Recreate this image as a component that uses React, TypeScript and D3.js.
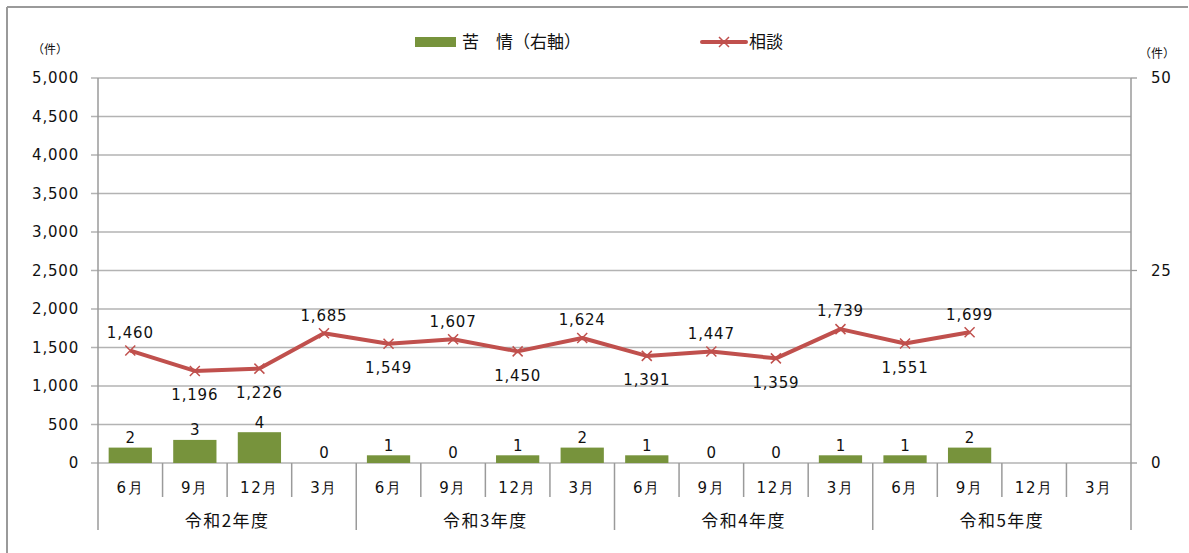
import React from "react";
import * as d3 from "d3";

const months = ["6月", "9月", "12月", "3月", "6月", "9月", "12月", "3月", "6月", "9月", "12月", "3月", "6月", "9月", "12月", "3月"];
const years = ["令和2年度", "令和3年度", "令和4年度", "令和5年度"];
const complaints: (number | null)[] = [2, 3, 4, 0, 1, 0, 1, 2, 1, 0, 0, 1, 1, 2, null, null];
const consultations: (number | null)[] = [1460, 1196, 1226, 1685, 1549, 1607, 1450, 1624, 1391, 1447, 1359, 1739, 1551, 1699, null, null];
const labelAbove = [true, false, false, true, false, true, false, true, false, true, false, true, false, true];
const leftTicks = [0, 500, 1000, 1500, 2000, 2500, 3000, 3500, 4000, 4500, 5000];
const rightTicks = [0, 25, 50];

const W = 1189, H = 553;
const L = 98, R = 1131, T = 78, B = 463;
const FONT = "'DejaVu Sans', Verdana, sans-serif";
const JFONT = "'Noto Sans CJK JP', 'DejaVu Sans', sans-serif";
const GRID = "#b3b3b3";
const AX = "#9a9a9a";
const GREEN = "#77933c";
const RED = "#c0504d";

export default function App() {
  const idx = months.map((_, i) => i);
  const x = d3.scaleBand<number>().domain(idx).range([L, R]).paddingInner(0.33).paddingOuter(0.165);
  const xc = (i: number) => (x(i) as number) + x.bandwidth() / 2;
  const step = (R - L) / months.length;
  const yL = d3.scaleLinear().domain([0, 5000]).range([B, T]);
  const yR = d3.scaleLinear().domain([0, 50]).range([B, T]);
  const fmt = d3.format(",");
  const pts = consultations.map((v, i) => (v == null ? null : [xc(i), yL(v)] as [number, number])).filter(Boolean) as [number, number][];
  const line = d3.line<[number, number]>()(pts) as string;

  return (
    <svg width={W} height={H} style={{ display: "block", position: "absolute", left: 0, top: 0, background: "#fff" }}>
      <line x1={7} y1={7} x2={1188} y2={7} stroke={AX} strokeWidth={2} />
      <line x1={7} y1={7} x2={7} y2={553} stroke={AX} strokeWidth={2} />
      {/* gridlines */}
      {leftTicks.map((t) => (
        <line key={t} x1={L - 7} x2={R} y1={yL(t)} y2={yL(t)} stroke={GRID} strokeWidth={1.3} />
      ))}
      {rightTicks.map((t) => (
        <line key={"r" + t} x1={R} x2={R + 6} y1={yR(t)} y2={yR(t)} stroke={AX} strokeWidth={1.3} />
      ))}
      {/* axes */}
      <line x1={L} x2={L} y1={T} y2={530} stroke={AX} strokeWidth={1.5} />
      <line x1={R} x2={R} y1={T} y2={530} stroke={AX} strokeWidth={1.5} />
      {months.map((_, i) => i > 0 && (
        <line key={"s" + i} x1={L + step * i} x2={L + step * i} y1={B} y2={i % 4 === 0 ? 530 : 497} stroke={AX} strokeWidth={1.5} />
      ))}
      {/* tick labels */}
      {leftTicks.map((t) => (
        <text key={"lt" + t} x={79} y={yL(t)} dy="0.36em" textAnchor="end" fontFamily={FONT} fontSize={15} letterSpacing={0.8} fill="#111">{fmt(t)}</text>
      ))}
      {rightTicks.map((t) => (
        <text key={"rt" + t} x={1151} y={yR(t)} dy="0.36em" textAnchor="start" fontFamily={FONT} fontSize={15} letterSpacing={0.8} fill="#111">{t}</text>
      ))}
      <text x={32} y={54} fontFamily={JFONT} fontSize={12} fill="#111">（件）</text>
      <text x={1139} y={58} fontFamily={JFONT} fontSize={12} fill="#111">（件）</text>
      {/* category labels */}
      {months.map((m, i) => (
        <text key={"m" + i} x={L + step * (i + 0.5)} y={488} dy="0.36em" textAnchor="middle" fontFamily={FONT} fontSize={15} letterSpacing={1.5} fill="#111">{m}</text>
      ))}
      {years.map((yv, k) => (
        <text key={"y" + k} x={L + step * (k * 4 + 2)} y={521} dy="0.36em" textAnchor="middle" fontFamily={JFONT} fontSize={17} letterSpacing={1.5} fill="#111">{yv}</text>
      ))}
      {/* bars */}
      {complaints.map((v, i) => v != null && v > 0 && (
        <rect key={"b" + i} x={x(i)} y={yR(v)} width={x.bandwidth()} height={B - yR(v)} fill={GREEN} />
      ))}
      {complaints.map((v, i) => v != null && (
        <text key={"bl" + i} x={xc(i)} y={yR(v) - 10} dy="0.36em" textAnchor="middle" fontFamily={FONT} fontSize={15} fill="#111">{v}</text>
      ))}
      {/* line */}
      <path d={line} fill="none" stroke={RED} strokeWidth={4} strokeLinejoin="round" />
      {pts.map(([px, py], i) => (
        <path key={"mk" + i} d={`M${px - 5},${py - 5}L${px + 5},${py + 5}M${px - 5},${py + 5}L${px + 5},${py - 5}`} stroke={RED} strokeWidth={1.5} />
      ))}
      {consultations.map((v, i) => v != null && (
        <text key={"ll" + i} x={xc(i)} y={yL(v) + (labelAbove[i] ? -18 : 24)} dy="0.36em" textAnchor="middle" fontFamily={FONT} fontSize={15} letterSpacing={0.8} fill="#111">{fmt(v)}</text>
      ))}
      {/* legend */}
      <rect x={415} y={37} width={41} height={10} fill={GREEN} />
      <text x={462} y={42} dy="0.36em" fontFamily={JFONT} fontSize={17} fill="#111">苦　情（右軸）</text>
      <line x1={702} x2={746} y1={42} y2={42} stroke={RED} strokeWidth={4} strokeLinecap="round" />
      <path d="M719,37L729,47M719,47L729,37" stroke={RED} strokeWidth={1.5} />
      <text x={749} y={42} dy="0.36em" fontFamily={JFONT} fontSize={17} fill="#111">相談</text>
    </svg>
  );
}
